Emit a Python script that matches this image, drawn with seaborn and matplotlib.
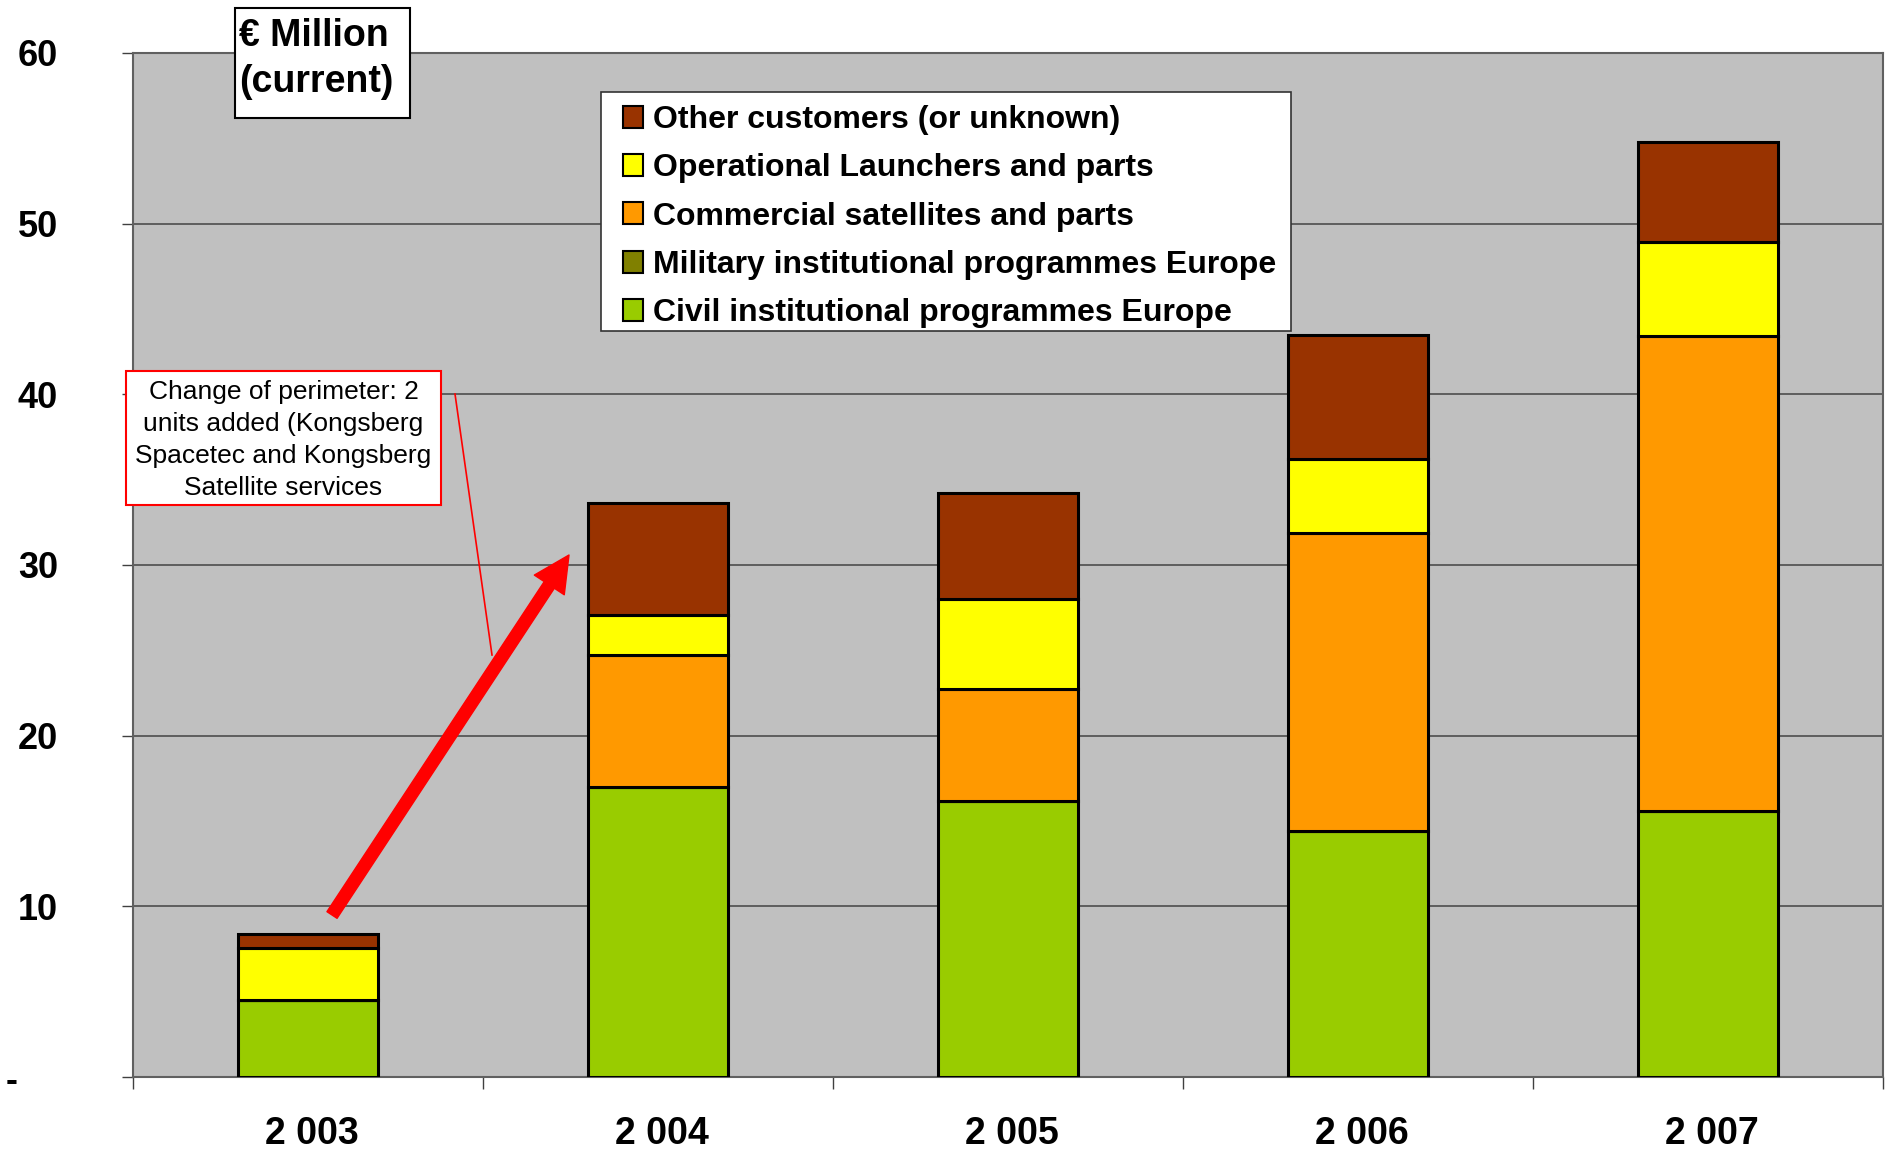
import numpy as np
import pandas as pd
import matplotlib
matplotlib.use("Agg")
import matplotlib.pyplot as plt
import matplotlib.transforms as mtransforms
import seaborn as sns
from matplotlib.patches import Patch, Rectangle, FancyArrowPatch
from matplotlib.lines import Line2D

# values (EUR million, current)
years       = ["2 003", "2 004", "2 005", "2 006", "2 007"]
civil       = [4.5, 17.0, 16.2, 14.4, 15.6]
military    = [0.0, 0.0, 0.0, 0.0, 0.0]
commercial  = [0.0, 7.75, 6.55, 17.45, 27.8]
operational = [3.05, 2.3, 5.25, 4.35, 5.5]
other       = [0.8, 6.6, 6.2, 7.25, 5.9]

series_cols   = ["civil", "military", "commercial", "operational", "other"]
series_names  = ["Civil institutional programmes Europe",
                 "Military institutional programmes Europe",
                 "Commercial satellites and parts",
                 "Operational Launchers and parts",
                 "Other customers (or unknown)"]
series_colors = ["#99CC00", "#808000", "#FF9900", "#FFFF00", "#993300"]

y_ticks       = [0, 10, 20, 30, 40, 50, 60]
y_tick_labels = ["-", "10", "20", "30", "40", "50", "60"]

unit_lines = ["€ Million", "(current)"]
note_text  = "Change of perimeter: 2\nunits added (Kongsberg\nSpacetec and Kongsberg\nSatellite services"

W, H = 1889, 1152


def fx(x):
    return x / W


def fy(y):
    return 1 - y / H


plt.rcParams['font.family'] = ['Liberation Sans', 'DejaVu Sans']

df = pd.DataFrame({
    'year':        years,
    'civil':       civil,
    'military':    military,
    'commercial':  commercial,
    'operational': operational,
    'other':       other,
})

fig = plt.figure(figsize=(W / 100, H / 100), dpi=100)
ax  = fig.add_axes([fx(133), fy(1077), (1883 - 133) / W, (1077 - 53) / H])
ax.set_facecolor('#C0C0C0')

bottom = np.zeros(len(years))
for col, color in zip(series_cols, series_colors):
    sns.barplot(data=df, x='year', y=col, bottom=bottom, color=color,
                saturation=1, width=0.4, errorbar=None,
                edgecolor='black', linewidth=2.2, ax=ax, zorder=3)
    bottom = bottom + df[col].to_numpy()

ax.set_xlabel('')
ax.set_ylabel('')
ax.set_xlim(-0.5, len(years) - 0.5)
ax.set_ylim(0, 60)

# x: tick marks between categories, labels under bar centres
ax.set_xticks(np.arange(-0.5, len(years), 1.0))
ax.set_xticklabels([])
ax.set_xticks(range(len(years)), labels=years, minor=True)
ax.tick_params(axis='x', which='major', length=8.5, width=1, color='#404040', direction='out')
ax.tick_params(axis='x', which='minor', length=0, pad=28, labelsize=27)
shift_x = mtransforms.ScaledTranslation(4 / 100, 0, fig.dpi_scale_trans)
for lbl in ax.get_xticklabels(minor=True):
    lbl.set_fontweight('bold')
    lbl.set_transform(lbl.get_transform() + shift_x)

# y: labels left aligned at far left
ax.set_yticks(y_ticks, labels=y_tick_labels)
ax.tick_params(axis='y', length=8, width=1, color='#404040', direction='out', pad=75, labelsize=26)
for lbl in ax.get_yticklabels():
    lbl.set_fontweight('bold')
    lbl.set_horizontalalignment('left')
dash = ax.get_yticklabels()[0]
dash.set_transform(dash.get_transform() + mtransforms.ScaledTranslation(-12 / 100, 0, fig.dpi_scale_trans))

ax.yaxis.grid(True, color='#4d4d4d', linewidth=1.2)
ax.set_axisbelow(True)
for sp in ax.spines.values():
    sp.set_color('#606060')
    sp.set_linewidth(1.5)

# legend: frame drawn separately so the box matches the reference
fig.add_artist(Rectangle((fx(601), fy(331)), (1291 - 601) / W, (331 - 92) / H,
                         transform=fig.transFigure, facecolor='white',
                         edgecolor='#333333', linewidth=1.2, zorder=4))
handles = [Patch(facecolor=c, edgecolor='black', linewidth=1.5, label=n)
           for n, c in zip(series_names[::-1], series_colors[::-1])]
leg = fig.legend(handles=handles, loc='upper left', bbox_to_anchor=(fx(620), fy(102)),
                 borderaxespad=0, frameon=False, prop=dict(weight='bold', size=23),
                 handlelength=0.62, handleheight=0.68, handletextpad=0.3,
                 labelspacing=0.57, borderpad=0.1)
leg.set_zorder(5)

# unit box
fig.add_artist(Rectangle((fx(235), fy(118)), (410 - 235) / W, (118 - 8) / H,
                         transform=fig.transFigure, facecolor='white',
                         edgecolor='black', linewidth=1.5, zorder=4))
fig.text(fx(239), fy(46), unit_lines[0], fontsize=27, fontweight='bold',
         ha='left', va='baseline', zorder=5)
fig.text(fx(239), fy(92), unit_lines[1], fontsize=27, fontweight='bold',
         ha='left', va='baseline', zorder=5)

# perimeter note
fig.add_artist(Rectangle((fx(126), fy(505)), (441 - 126) / W, (505 - 371) / H,
                         transform=fig.transFigure, facecolor='white',
                         edgecolor='red', linewidth=1.5, zorder=4))
fig.text(fx(283.5), fy(440), note_text, fontsize=19, ha='center', va='center',
         linespacing=1.43, multialignment='center', zorder=5)
fig.add_artist(Line2D([fx(455), fx(492)], [fy(394), fy(655)],
                      transform=fig.transFigure, color='red', linewidth=1.2, zorder=4))

arrow = FancyArrowPatch((fx(332), fy(915)), (fx(569), fy(555)),
                        transform=fig.transFigure,
                        arrowstyle='simple,head_length=0.86,head_width=0.86,tail_width=0.29',
                        mutation_scale=30, color='red', shrinkA=0, shrinkB=0, zorder=4)
fig.add_artist(arrow)

fig.savefig('out.png', dpi=100)
